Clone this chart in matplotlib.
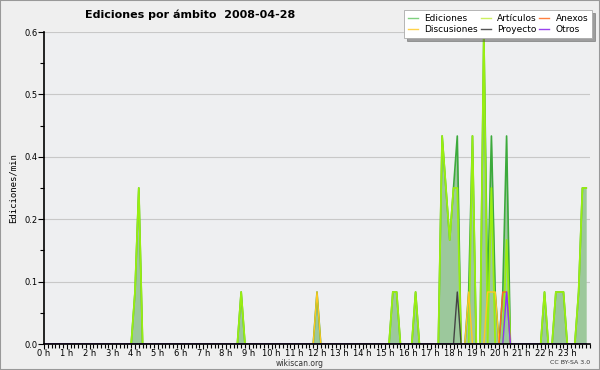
import numpy as np
import matplotlib
matplotlib.use("Agg")
import matplotlib.pyplot as plt
from matplotlib.ticker import FixedLocator, MultipleLocator, FormatStrFormatter

# 10-minute bins, only non-zero values listed (edits/min)
ediciones_t = ["04:00", "04:10", "08:40", "12:00", "15:20", "15:30", "16:20",
               "17:30", "17:40", "17:50", "18:00", "18:10", "18:40", "18:50",
               "19:20", "19:30", "19:40", "19:50", "20:10", "20:20",
               "22:00", "22:30", "22:40", "22:50", "23:30", "23:40", "23:50"]
ediciones_v = [0.1, 0.3, 0.1, 0.1, 0.1, 0.1, 0.1,
               0.4, 0.3, 0.2, 0.3, 0.4, 0.1, 0.4,
               0.6, 0.1, 0.4, 0.1, 0.1, 0.4,
               0.1, 0.1, 0.1, 0.1, 0.1, 0.3, 0.3]

articulos_t = ["04:00", "04:10", "08:40", "15:20", "15:30", "16:20",
               "17:30", "17:40", "17:50", "18:00", "18:10", "18:50",
               "19:20", "19:40", "20:20",
               "22:00", "22:30", "22:40", "22:50", "23:30", "23:40", "23:50"]
articulos_v = [0.1, 0.3, 0.1, 0.1, 0.1, 0.1,
               0.4, 0.3, 0.2, 0.3, 0.3, 0.4,
               0.6, 0.3, 0.2,
               0.1, 0.1, 0.1, 0.1, 0.1, 0.3, 0.3]

discusiones_t = ["12:00", "18:40", "19:30", "19:40", "19:50"]
discusiones_v = [0.1, 0.1, 0.1, 0.1, 0.1]

anexos_t = ["20:10", "20:20"]
anexos_v = [0.1, 0.1]

proyecto_t = ["18:10"]
proyecto_v = [0.1]

otros_t = ["20:20"]
otros_v = [0.1]

hour_labels = ["%d h" % h for h in range(24)]


def series(times, values):
    y = np.zeros(144)
    for t, v in zip(times, values):
        hh, mm = t.split(":")
        y[int(hh) * 6 + int(mm) // 10] = v
    return y


x = np.arange(144) / 6.0
ed = series(ediciones_t, ediciones_v)
art = series(articulos_t, articulos_v)
dis = series(discusiones_t, discusiones_v)
anx = series(anexos_t, anexos_v)
pro = series(proyecto_t, proyecto_v)
otr = series(otros_t, otros_v)

bg = "#eeeff1"
fig = plt.figure(figsize=(6, 3.7), dpi=100, facecolor="#efefef")
ax = fig.add_axes([44 / 600, 1 - 344 / 370, 546 / 600, 312 / 370])
ax.set_facecolor(bg)

ax.fill_between(x, 0, ed, color="#9cc89c", lw=0, zorder=1)
ax.plot(x, ed, color="#3caa3c", lw=1.2, label="Ediciones", zorder=2)
ax.plot(x, art, color="#99ee11", lw=1.3, label="Artículos", zorder=2)
ax.plot(x, dis, color="#ffc820", lw=1.0, label="Discusiones", zorder=2)
ax.plot(x, anx, color="#ff6a20", lw=1.0, label="Anexos", zorder=2)
ax.plot(x, pro, color="#444444", lw=1.0, label="Proyecto", zorder=2)
ax.plot(x, otr, color="#8833ff", lw=1.0, label="Otros", zorder=2)

ax.set_xlim(0, 24)
ax.set_ylim(0, 0.6)

ax.yaxis.set_major_locator(FixedLocator([0, 0.12, 0.24, 0.36, 0.48, 0.6]))
ax.yaxis.set_major_formatter(FormatStrFormatter("%.1f"))
ax.yaxis.set_minor_locator(FixedLocator([0.06, 0.18, 0.30, 0.42, 0.54]))
ax.set_xticks(range(24))
ax.set_xticklabels(hour_labels)
ax.xaxis.set_minor_locator(MultipleLocator(1 / 6))
ax.tick_params(axis="both", which="major", labelsize=6, length=3.5, width=0.8,
               pad=0, colors="black")
ax.tick_params(axis="y", which="major", pad=0.5, length=4)
ax.tick_params(axis="both", which="minor", length=3, width=0.8)
ax.grid(axis="y", which="major", color="#c8c8c8", lw=0.8)
ax.set_axisbelow(True)

for s in ["top", "right"]:
    ax.spines[s].set_visible(False)
for s in ["left", "bottom"]:
    ax.spines[s].set_linewidth(1.2)
    ax.spines[s].set_zorder(5)

ax.set_ylabel("Ediciones/min", family="DejaVu Sans Mono", fontsize=6.5,
              labelpad=5)

handles, labels = ax.get_legend_handles_labels()
order = [0, 2, 1, 4, 3, 5]
handles = [handles[i] for i in order]
labels = [labels[i] for i in order]
# legend colours as shown in the key
key_colors = ["#7fd07f", "#ffd24a", "#ccf060", "#555555", "#ff8040", "#9944ee"]
leg = fig.legend(handles, labels, ncol=3, loc="upper left",
                 bbox_to_anchor=(404 / 600, 1 - 10 / 370), fontsize=6.5,
                 frameon=True, fancybox=False, shadow=True, handlelength=1.1,
                 handletextpad=0.7, columnspacing=0.3, labelspacing=0.2,
                 borderpad=0.45, borderaxespad=0)
for h, c in zip(leg.legend_handles, key_colors):
    h.set_color(c)
    h.set_linewidth(1.0)
leg.get_frame().set_edgecolor("#aaaaaa")
leg.get_frame().set_linewidth(0.6)

fig.text(85 / 600, 1 - 15 / 370, "Ediciones por ámbito  2008-04-28",
         fontsize=8, fontweight="bold", va="center", ha="left")
fig.text(300 / 600, 1 - 363 / 370, "wikiscan.org", fontsize=5.5, ha="center",
         va="center", color="#333333")
fig.text(590 / 600, 1 - 363 / 370, "CC BY-SA 3.0", fontsize=4.5, ha="right",
         va="center", color="#333333")

fig.patches.append(plt.Rectangle((0, 0), 1, 1, transform=fig.transFigure,
                                 fill=False, edgecolor="#999999", lw=1.5))

fig.savefig("out.png", dpi=100, facecolor=fig.get_facecolor())
